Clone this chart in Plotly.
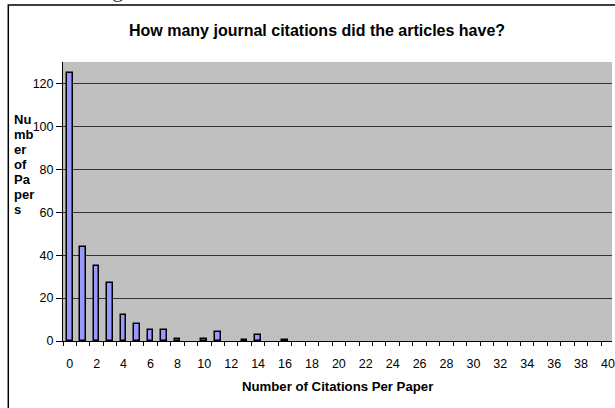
import plotly.graph_objects as go

citations = list(range(0, 41))
paper_counts = [125, 44, 35, 27, 12, 8, 5, 5, 1, None, 1, 4, None, 0.5, 3, None, 0.5] + [None] * 24
tick_vals = list(range(0, 41, 2))
tick_text = [str(v) for v in tick_vals]
y_title_lines = ["Nu", "mb", "er", "of", "Pa", "per", "s"]

W, H = 615, 408
ML, MR, MT, MB = 63, 0, 62, 67
PW, PH = W - ML - MR, H - MT - MB

def px(x):
    return (x - ML) / PW

def py(y):
    return (H - MB - y) / PH

fig = go.Figure()
fig.add_trace(go.Bar(
    x=citations, y=paper_counts, width=0.42,
    marker=dict(color="#9999FF", line=dict(color="black", width=1.5)),
    hoverinfo="x+y",
))

font = "Arial, 'Liberation Sans', sans-serif"
annotations = [
    dict(text="<b>How many journal citations did the articles have?</b>",
         xref="paper", yref="paper", x=px(318), y=py(30),
         xanchor="center", yanchor="middle", showarrow=False,
         font=dict(size=16, family=font)),
    dict(text="<b>Number of Citations Per Paper</b>",
         xref="paper", yref="paper", x=px(339.5), y=py(386),
         xanchor="center", yanchor="middle", showarrow=False,
         font=dict(size=13.2, family=font)),
    dict(text="Figure 1: Number of Journal Citations",
         xref="paper", yref="paper", x=px(264), y=py(4),
         xanchor="center", yanchor="bottom", showarrow=False,
         font=dict(size=22, family="'Liberation Serif', 'Times New Roman', serif", color="#333333")),
]
for i, line in enumerate(y_title_lines):
    annotations.append(dict(
        text=f"<b>{line}</b>", xref="paper", yref="paper",
        x=px(12), y=py(119 + 15.1 * i), xanchor="left", yanchor="middle",
        showarrow=False, font=dict(size=13, family=font)))

fig.update_layout(
    width=W, height=H,
    margin=dict(l=ML, r=MR, t=MT, b=MB),
    paper_bgcolor="white", plot_bgcolor="#C0C0C0",
    showlegend=False, bargap=0,
    font=dict(family=font, size=12.5, color="black"),
    xaxis=dict(
        range=[-0.5, 40.3], tickmode="array", tickvals=tick_vals, ticktext=tick_text,
        ticks="", showgrid=False, zeroline=False,
        showline=True, linecolor="black", linewidth=1,
        tickfont=dict(size=12.5), ticklabelstandoff=11, ticklabeloverflow="allow",
        minor=dict(tickmode="linear", tick0=-0.5, dtick=1, ticks="outside",
                   ticklen=4, tickcolor="black", tickwidth=1, showgrid=False),
    ),
    yaxis=dict(
        range=[0, 130], tickmode="linear", tick0=0, dtick=20,
        ticks="outside", ticklen=6, tickcolor="black",
        showgrid=True, gridcolor="#333333", gridwidth=1, zeroline=False,
        showline=True, linecolor="black", linewidth=1,
        tickfont=dict(size=12.5),
    ),
    shapes=[dict(type="rect", xref="paper", yref="paper",
                 x0=px(8), y0=py(430), x1=px(640), y1=py(5),
                 line=dict(color="black", width=1.5), layer="below")],
    annotations=annotations,
)

fig.write_html(
    "out.html",
    config={"displayModeBar": False},
    post_script="document.body.style.margin='0';document.body.style.overflow='hidden';",
)
